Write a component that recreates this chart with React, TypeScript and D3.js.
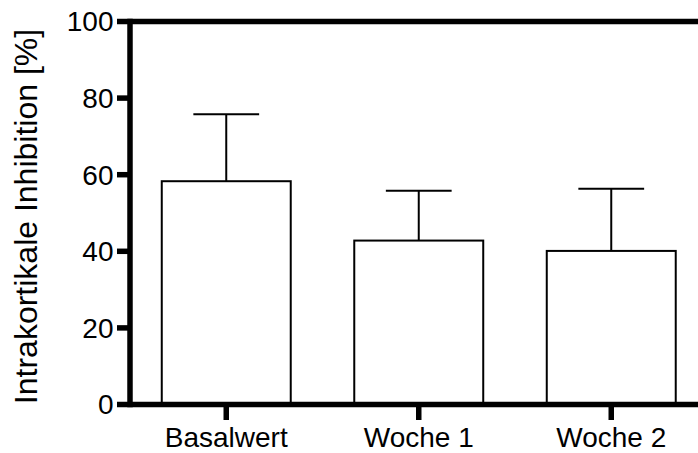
import React from "react";
import * as d3 from "d3";

const categories = ["Basalwert", "Woche 1", "Woche 2"];
const means = [58.3, 42.8, 40.1];
const sds = [17.5, 13.0, 16.2];
const yTicks = [0, 20, 40, 60, 80, 100];
const yLabel = "Intrakortikale Inhibition [%]";

export default function App() {
  const W = 698;
  const H = 453;
  const x0 = 130;
  const y = d3.scaleLinear().domain([0, 100]).range([404.5, 21.5]);
  const x = d3
    .scaleBand<string>()
    .domain(categories)
    .range([x0, 707.5])
    .paddingInner(0.33)
    .paddingOuter(0.165);
  const bw = x.bandwidth();
  const font = "'Liberation Sans', Arial, Helvetica, sans-serif";
  const axisW = 5.5;

  return (
    <svg
      width={W}
      height={H}
      style={{ position: "absolute", left: 0, top: 0, display: "block", background: "#fff" }}
      fontFamily={font}
    >
      <rect x={0} y={0} width={W} height={H} fill="#fff" />
      {categories.map((c, i) => {
        const bx = x(c)!;
        const cx = bx + bw / 2;
        const top = y(means[i]);
        const et = y(means[i] + sds[i]);
        const cap = bw * 0.255;
        return (
          <g key={c}>
            <line x1={cx} x2={cx} y1={top} y2={et} stroke="#000" strokeWidth={2} />
            <line x1={cx - cap} x2={cx + cap} y1={et} y2={et} stroke="#000" strokeWidth={2} />
            <rect x={bx} y={top} width={bw} height={y(0) - top} fill="#fff" stroke="#000" strokeWidth={2} />
          </g>
        );
      })}
      <line x1={x0} x2={W + 10} y1={y(100)} y2={y(100)} stroke="#000" strokeWidth={axisW} />
      <line x1={x0} x2={x0} y1={y(100) - axisW / 2} y2={y(0) + axisW / 2} stroke="#000" strokeWidth={axisW} />
      {yTicks.map((t) => (
        <g key={t}>
          <line x1={117} x2={x0} y1={y(t)} y2={y(t)} stroke="#000" strokeWidth={axisW} />
          <text x={113.5} y={y(t)} dy="0.35em" textAnchor="end" fontSize={28} fill="#000">
            {t}
          </text>
        </g>
      ))}
      <line x1={x0} x2={W + 10} y1={y(0)} y2={y(0)} stroke="#000" strokeWidth={axisW} />
      {categories.map((c) => {
        const cx = x(c)! + bw / 2;
        return (
          <g key={c}>
            <line x1={cx} x2={cx} y1={y(0)} y2={420} stroke="#000" strokeWidth={axisW} />
            <text x={cx} y={447} textAnchor="middle" fontSize={28} fill="#000">
              {c}
            </text>
          </g>
        );
      })}
      <text
        transform={`translate(37,${(405 + 28) / 2}) rotate(-90)`}
        textAnchor="middle"
        fontSize={32}
        fill="#000"
      >
        {yLabel}
      </text>
    </svg>
  );
}
